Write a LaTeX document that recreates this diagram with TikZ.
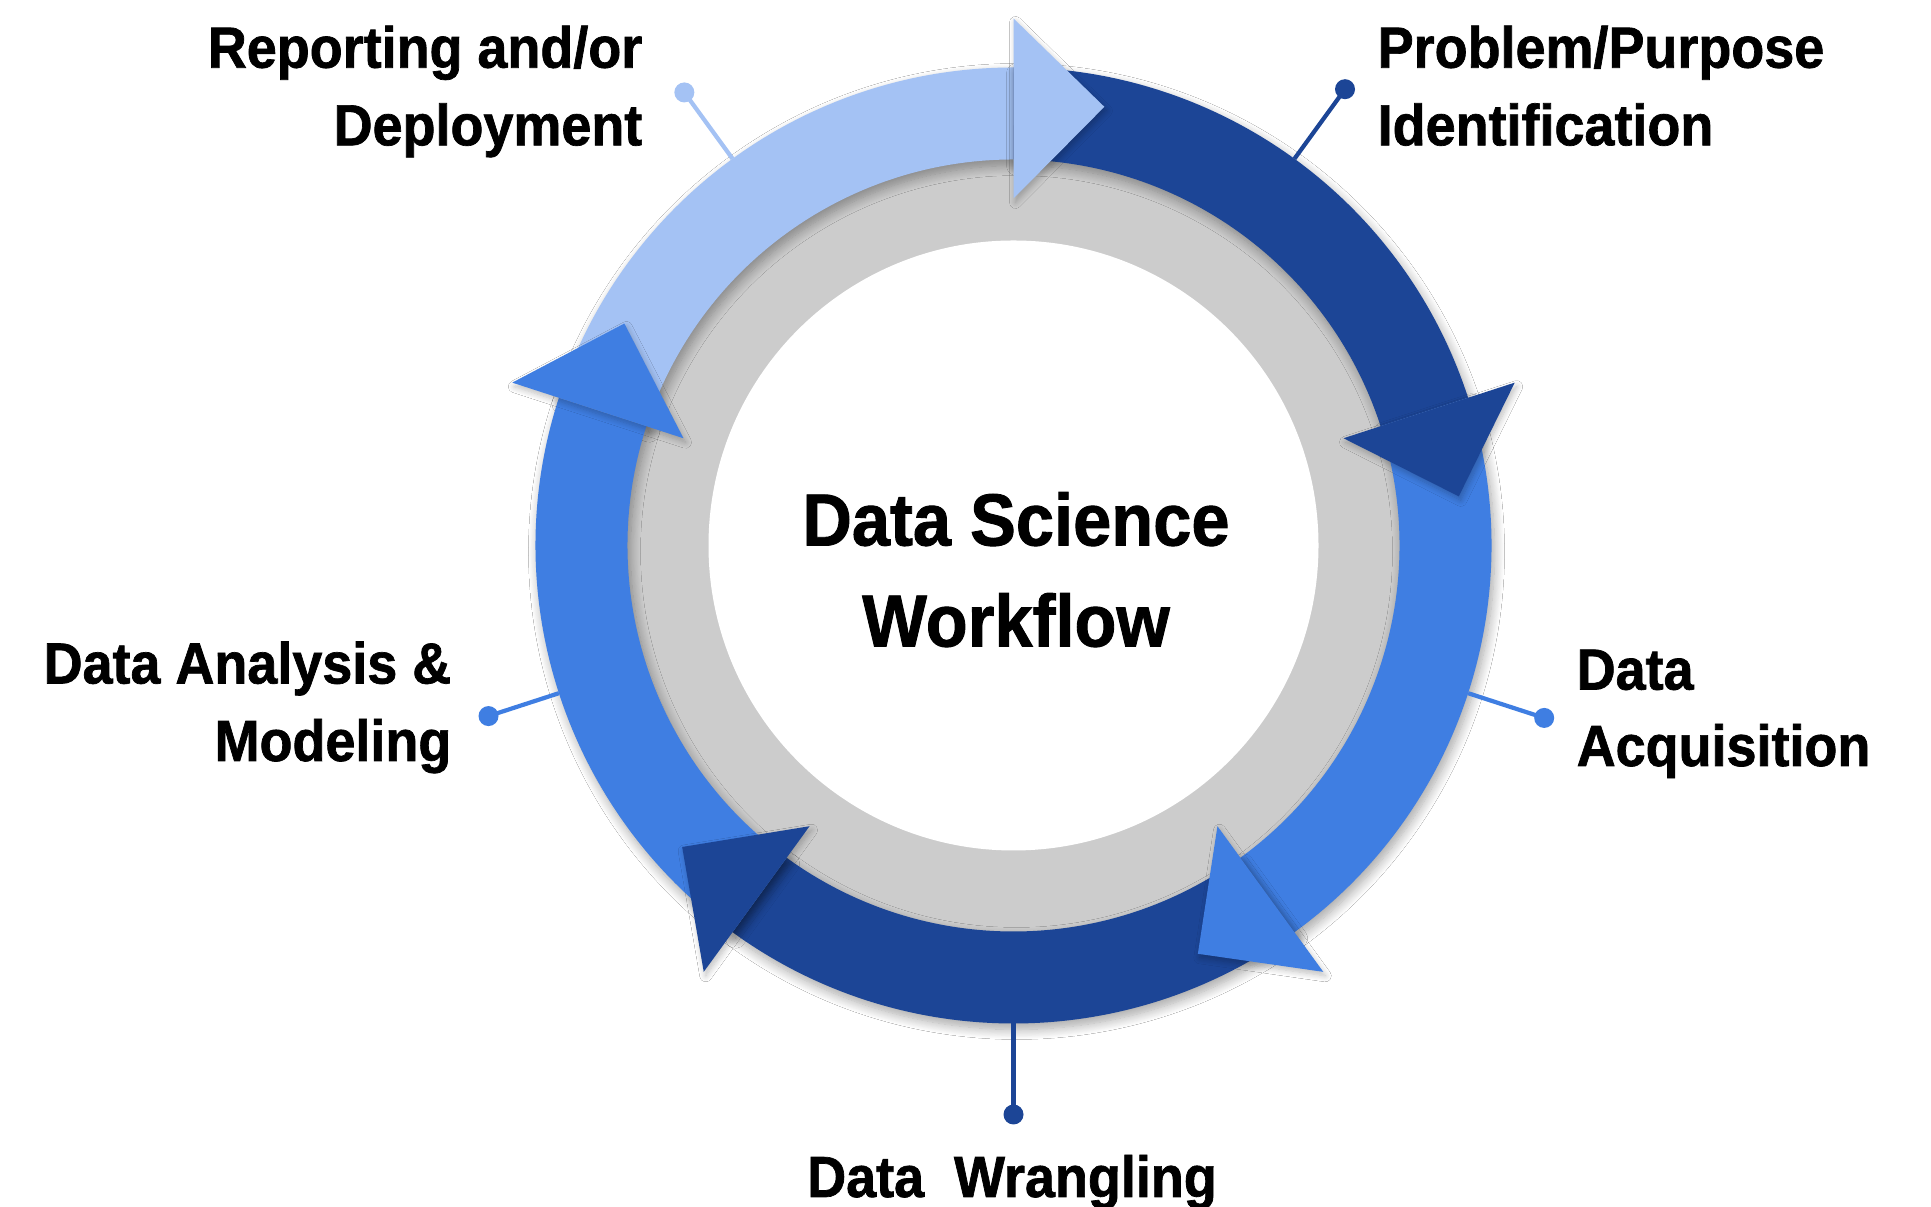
\documentclass[tikz,border=0pt]{standalone}
\usepackage{fontspec}
\newfontfamily\labfont{Liberation Sans}[FakeStretch=0.93, FakeBold=1.2]
\usetikzlibrary{calc,shadows.blur}

\definecolor{lightb}{HTML}{A4C2F4}
\definecolor{darkb}{HTML}{1C4596}
\definecolor{midb}{HTML}{3F7EE2}
\definecolor{ringgray}{HTML}{CCCCCC}

\tikzset{
  soft/.style={blur shadow={shadow xshift=0.03cm, shadow yshift=-0.06cm,
      shadow blur radius=0.1cm, shadow blur steps=12, shadow opacity=35}},
  softhead/.style={blur shadow={shadow xshift=0.02cm, shadow yshift=-0.04cm,
      shadow blur radius=0.06cm, shadow blur steps=8, shadow opacity=25}},
  label/.style={inner sep=0pt, font=\labfont\bfseries\fontsize{16.5}{19}\selectfont},
  title/.style={inner sep=0pt, font=\labfont\bfseries\fontsize{21}{25}\selectfont},
  pin/.style={line width=1.2pt},
  pindot/.style={circle, inner sep=0pt, minimum size=0.2cm},
}

\begin{document}
\begin{tikzpicture}
\useasboundingbox (0,0) rectangle (19.31,12.07);
\fill[white] (0,0) rectangle (19.31,12.07);

\coordinate (C) at (10.135,6.615);
\def\rin{3.86}
\def\rout{4.78}
\def\hin{3.47}
\def\hout{5.27}
\def\rtip{4.48}

% grey ring and white centre
\fill[ringgray] (C) circle[radius=4.2];
\fill[white] (C) circle[radius=3.05];

% arc bands of the five stages (clockwise)
\foreach \s/\e/\col in {162/90/lightb, 90/18/darkb, 18/-54/midb, -54/-126/darkb, -126/-198/midb}{
  \fill[\col, soft] ($(C)+(\s:\rout)$) arc[start angle=\s, end angle=\e, radius=\rout]
    -- ($(C)+(\e:\rin)$) arc[start angle=\e, end angle=\s, radius=\rin] -- cycle;
}
% arrow heads
\foreach \e/\col in {90/lightb, 18/darkb, -54/midb, -126/darkb, -198/midb}{
  \fill[\col, softhead] ($(C)+(\e:\hin)$) -- ($(C)+(\e:\hout)$)
    -- ($(C)+({\e-11.7}:\rtip)$) -- cycle;
}

% pins
\foreach \n/\a/\r/\col in {rep/126/5.60/lightb, pro/54/5.64/darkb, acq/-18/5.58/midb,
                           wra/-90/5.69/darkb, ana/-162/5.52/midb}{
  \coordinate (\n0) at ($(C)+(\a:\rout)$);
  \node[pindot, fill=\col] (\n) at ($(C)+(\a:\r)$) {};
  \draw[pin, \col] (\n0) -- (\n.center);
}

% labels
\node[label, anchor=base east] (repA) at (6.43,11.393) {Reporting and/or};
\node[label, anchor=base east] (repB) at (6.43,10.617) {Deployment};
\node[label, anchor=base west] (proA) at (13.77,11.393) {Problem/Purpose};
\node[label, anchor=base west] (proB) at (13.77,10.617) {Identification};
\node[label, anchor=base west] (acqA) at (15.76,5.174) {Data};
\node[label, anchor=base west] (acqB) at (15.76,4.41) {Acquisition};
\node[label, anchor=base east] (anaA) at (4.52,5.235) {Data Analysis \&};
\node[label, anchor=base east] (anaB) at (4.52,4.46) {Modeling};
\node[label, anchor=base] (wraT) at (10.12,0.10) {Data\ \ Wrangling};

\node[title, anchor=base] (titA) at (10.16,6.615) {Data Science};
\node[title, anchor=base] (titB) at (10.16,5.605) {Workflow};
\end{tikzpicture}
\end{document}
